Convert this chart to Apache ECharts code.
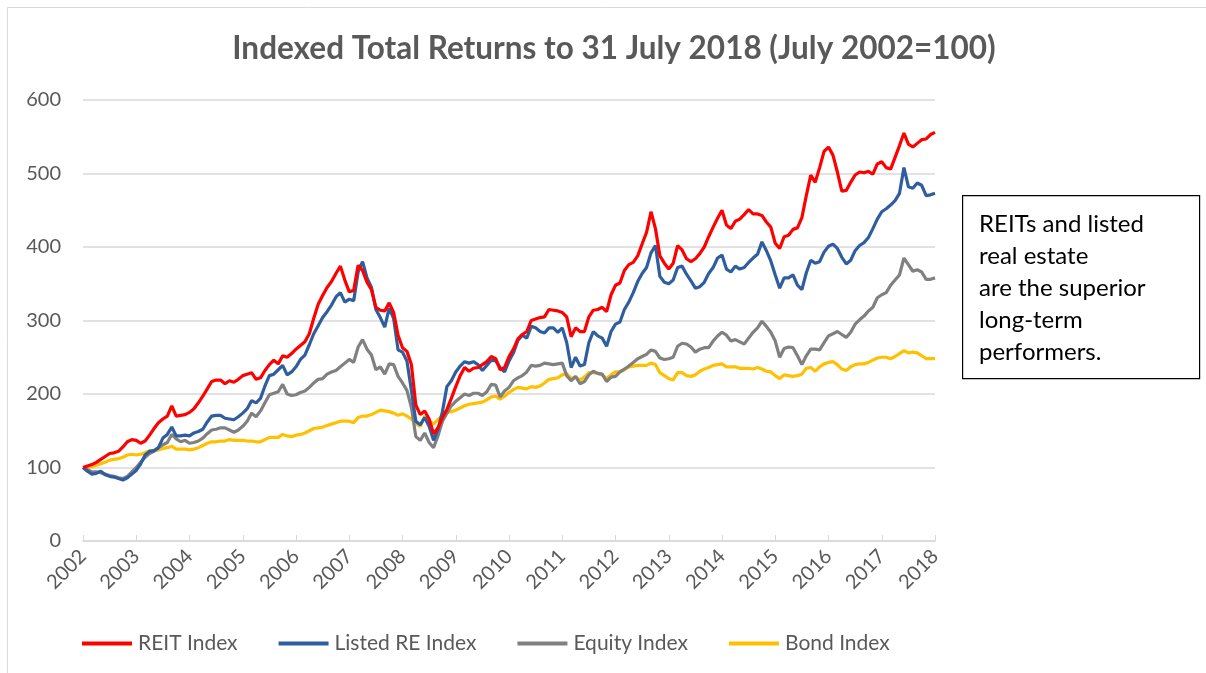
<!DOCTYPE html>
<html>
<head>
<meta charset="utf-8">
<script src="https://cdn.jsdelivr.net/npm/echarts@6/dist/echarts.min.js"></script>
<style>
html,body{margin:0;padding:0;background:#fff;}
#chart{width:1206px;height:673px;}
</style>
</head>
<body>
<div id="chart"></div>
<script>
// Monthly observations, July 2002 .. July 2018 (193 points)
const startYear = 2002;
const startMonth = 7;
const yearTicks = ['2002','2003','2004','2005','2006','2007','2008','2009','2010','2011','2012','2013','2014','2015','2016','2017','2018'];

const reit = [
100,102,104,107,111,115,119,120,122,128,135,138,
137,133,136,144,153,161,166,170,184,170,171,172,
175,180,188,197,207,217,219,219,214,218,216,220,
225,227,229,220,222,232,240,246,241,252,250,255,
261,266,271,282,303,322,334,345,353,364,374,355,
339,341,375,368,352,342,318,314,313,324,311,280,
263,258,240,185,172,177,166,146,154,168,179,194,
210,225,236,231,235,236,240,244,251,248,233,236,
251,261,275,281,285,300,302,304,305,315,314,313,
311,305,278,290,285,285,305,314,315,318,312,335,
348,351,368,376,379,388,404,420,448,425,388,378,
370,378,402,396,384,380,384,391,400,414,427,439,
450,430,425,435,438,444,451,445,445,443,434,427,
405,398,414,416,424,426,440,470,498,488,508,530,
536,525,502,476,477,488,498,502,501,503,499,513,
516,508,506,522,538,555,540,536,541,546,547,553,
556];

const listedRE = [
100,95,91,92,95,90,88,87,85,83,86,91,
96,105,117,122,123,127,140,145,155,143,143,144,
143,147,149,152,162,170,171,171,167,166,165,169,
174,180,191,188,194,211,225,227,233,239,226,230,
237,247,253,267,282,293,304,312,321,332,338,325,
329,327,366,380,358,345,315,304,291,317,303,260,
257,245,205,163,158,168,156,137,152,176,210,218,
230,238,244,242,244,240,232,239,246,245,236,230,
245,256,273,280,276,292,290,285,283,290,290,284,
290,270,236,250,238,240,270,285,279,276,265,285,
295,298,315,325,338,353,364,372,392,402,360,352,
350,355,372,374,363,354,344,346,352,364,372,385,
389,370,366,374,370,372,379,385,390,407,395,381,
362,344,358,358,362,348,342,365,382,378,380,393,
401,404,398,386,377,382,395,402,406,413,425,438,
448,452,457,463,473,508,482,480,487,484,470,471,
473];

const equity = [
100,97,94,94,93,91,89,88,86,85,88,94,
100,107,114,119,122,127,131,134,145,139,135,137,
133,134,136,140,146,151,152,154,154,151,148,151,
156,163,174,169,177,188,199,201,203,213,200,198,
199,202,204,209,215,220,221,227,230,232,237,242,
247,243,264,274,261,253,233,237,227,241,240,224,
215,205,182,142,137,147,134,127,143,163,174,184,
190,195,200,198,201,201,198,203,213,212,196,204,
209,218,222,225,230,239,238,239,242,241,240,241,
242,225,218,224,214,217,226,231,228,227,217,223,
224,230,234,238,243,248,251,254,260,258,249,247,
248,250,265,269,268,264,257,261,263,263,272,279,
284,280,272,274,271,268,276,284,290,299,292,284,
272,250,262,264,263,252,240,252,261,261,260,270,
279,282,285,281,277,284,295,301,306,313,318,331,
335,338,348,355,362,385,376,367,369,366,356,356,
358];

const bond = [
100,100,101,103,105,107,110,111,112,114,117,118,
117,118,120,123,123,124,126,127,129,125,125,125,
124,125,127,130,133,135,135,136,136,138,137,137,
137,136,136,135,135,138,141,141,141,145,143,142,
144,145,147,150,153,154,155,157,159,161,163,163,
163,161,168,170,170,172,175,178,177,176,174,171,
173,170,166,160,156,170,163,159,165,171,175,176,
178,181,184,186,187,188,189,192,196,197,193,197,
202,206,209,208,207,210,209,211,215,220,221,222,
226,228,221,223,219,223,229,229,228,226,221,226,
230,230,233,237,238,239,239,239,242,240,229,225,
221,219,229,229,225,224,226,231,234,236,239,240,
241,237,237,237,235,235,235,234,236,234,231,230,
225,221,226,225,224,225,227,235,236,231,237,241,
243,244,240,234,232,237,240,241,241,243,246,249,
250,250,248,251,255,259,256,257,256,252,248,248,
248];

const seriesNames = ['REIT Index','Listed RE Index','Equity Index','Bond Index'];
const noteLines = ['REITs and listed','real estate','are the superior','long-term','performers.'];

const months = [];
for (let i = 0; i < reit.length; i++) {
  const m = startMonth - 1 + i;
  const y = startYear + Math.floor(m / 12);
  months.push(y + '-' + String(m % 12 + 1).padStart(2, '0'));
}

const FONT = 'Lato';
const TXT = '#595959';
const colors = ['#FF0000', '#2E5E9E', '#808080', '#FFC000'];
const datasets = [reit, listedRE, equity, bond];

const chart = echarts.init(document.getElementById('chart'), null, {renderer: 'canvas'});
chart.setOption({
  animation: false,
  backgroundColor: '#ffffff',
  textStyle: {fontFamily: FONT},
  title: {
    text: 'Indexed Total Returns to 31 July 2018 (July 2002=100)',
    left: 609, top: 28, textAlign: 'center',
    textStyle: {fontFamily: FONT, fontSize: 31.5, fontWeight: 'bold', color: TXT}
  },
  grid: {left: 83, right: 271, top: 100, bottom: 132, containLabel: false},
  legend: {
    left: 77, top: 628,
    itemWidth: 50, itemHeight: 4, itemGap: 41,
    icon: 'rect',
    textStyle: {fontFamily: FONT, fontSize: 21, color: TXT, padding: [0, 0, 0, 1]},
    data: seriesNames
  },
  xAxis: {
    type: 'category',
    boundaryGap: false,
    data: months,
    axisLine: {lineStyle: {color: '#d9d9d9', width: 1.5}},
    axisTick: {show: true, inside: true, length: 6, interval: 11, lineStyle: {color: '#d9d9d9'}},
    axisLabel: {
      interval: 11, rotate: 45, margin: 12,
      fontFamily: FONT, fontSize: 20, color: TXT,
      formatter: function (v) { return yearTicks[yearTicks.indexOf(v.slice(0, 4))]; }
    },
    splitLine: {show: false}
  },
  yAxis: {
    type: 'value', min: 0, max: 600, interval: 100,
    axisLine: {show: false}, axisTick: {show: false},
    axisLabel: {fontFamily: FONT, fontSize: 20, color: TXT, margin: 22},
    splitLine: {lineStyle: {color: '#d9d9d9', width: 1.5}}
  },
  series: seriesNames.map((n, i) => ({
    name: n, type: 'line', data: datasets[i],
    showSymbol: false, symbol: 'none',
    lineStyle: {color: colors[i], width: 3.2},
    itemStyle: {color: colors[i]},
    z: 10 - i
  })),
  graphic: [
    {type: 'rect', left: 5, top: 5, shape: {width: 1215, height: 700}, style: {fill: 'none', stroke: '#d9d9d9', lineWidth: 1}, silent: true},
    {type: 'rect', left: 962, top: 195, shape: {width: 237, height: 183}, style: {fill: '#fff', stroke: '#000', lineWidth: 1.2}},
    {type: 'text', left: 979, top: 208, style: {text: noteLines.join('\n'), font: '24px Lato', fill: '#000', lineHeight: 32}}
  ]
});
</script>
</body>
</html>
